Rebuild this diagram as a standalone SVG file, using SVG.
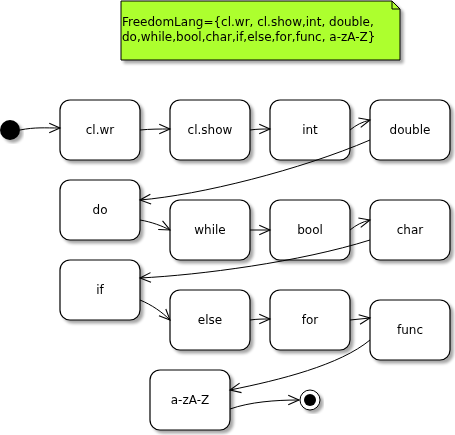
<svg xmlns="http://www.w3.org/2000/svg" width="455" height="435" viewBox="0 0 455 435">
<style>
.box{fill:#fff;stroke:#000;stroke-width:1.2}
.lbl{font-family:"DejaVu Sans",sans-serif;font-size:12px;fill:#000;text-anchor:middle}
.edge{fill:none;stroke:#000;stroke-width:1;marker-end:url(#arr)}
</style>
<defs>
<filter id="sh" x="-20%" y="-20%" width="140%" height="140%">
<feGaussianBlur in="SourceAlpha" stdDeviation="1.5"/>
<feOffset dx="3" dy="3" result="b"/>
<feComponentTransfer><feFuncA type="linear" slope="0.35"/></feComponentTransfer>
<feMerge><feMergeNode/><feMergeNode in="SourceGraphic"/></feMerge>
</filter>
<marker id="arr" markerUnits="userSpaceOnUse" markerWidth="14" markerHeight="14" viewBox="-11 -6 13 12" refX="0" refY="0" orient="auto">
<path d="M-10,-4.5 L0,0 L-10,4.5" fill="none" stroke="#000" stroke-width="1"/>
</marker>
</defs>
<g id="note" filter="url(#sh)">
<path d="M121,1 L392,1 L400,9 L400,60 L121,60 Z" fill="#ADFF2F" stroke="#000" stroke-width="1"/>
<path d="M392,1 L392,9 L400,9" fill="none" stroke="#000" stroke-width="1"/>
<text font-family="DejaVu Sans,sans-serif" font-size="12" x="122" y="26">FreedomLang={cl.wr, cl.show,int, double,</text>
<text font-family="DejaVu Sans,sans-serif" font-size="12" x="122" y="41">do,while,bool,char,if,else,for,func, a-zA-Z}</text>
</g>
<g id="start" filter="url(#sh)"><circle cx="10" cy="130" r="10" fill="#000"/></g>
<g id="n-clwr" filter="url(#sh)"><rect class="box" x="60" y="100" width="80" height="60" rx="10"/><text class="lbl" x="100" y="134">cl.wr</text></g>
<g id="n-clshow" filter="url(#sh)"><rect class="box" x="170" y="100" width="80" height="60" rx="10"/><text class="lbl" x="210" y="134">cl.show</text></g>
<g id="n-int" filter="url(#sh)"><rect class="box" x="270" y="100" width="80" height="60" rx="10"/><text class="lbl" x="310" y="134">int</text></g>
<g id="n-double" filter="url(#sh)"><rect class="box" x="370" y="100" width="80" height="60" rx="10"/><text class="lbl" x="410" y="134">double</text></g>
<g id="n-do" filter="url(#sh)"><rect class="box" x="60" y="180" width="80" height="60" rx="10"/><text class="lbl" x="100" y="214">do</text></g>
<g id="n-while" filter="url(#sh)"><rect class="box" x="170" y="200" width="80" height="60" rx="10"/><text class="lbl" x="210" y="234">while</text></g>
<g id="n-bool" filter="url(#sh)"><rect class="box" x="270" y="200" width="80" height="60" rx="10"/><text class="lbl" x="310" y="234">bool</text></g>
<g id="n-char" filter="url(#sh)"><rect class="box" x="370" y="200" width="80" height="60" rx="10"/><text class="lbl" x="410" y="234">char</text></g>
<g id="n-if" filter="url(#sh)"><rect class="box" x="60" y="260" width="80" height="60" rx="10"/><text class="lbl" x="100" y="294">if</text></g>
<g id="n-else" filter="url(#sh)"><rect class="box" x="170" y="290" width="80" height="60" rx="10"/><text class="lbl" x="210" y="324">else</text></g>
<g id="n-for" filter="url(#sh)"><rect class="box" x="270" y="290" width="80" height="60" rx="10"/><text class="lbl" x="310" y="324">for</text></g>
<g id="n-func" filter="url(#sh)"><rect class="box" x="370" y="300" width="80" height="60" rx="10"/><text class="lbl" x="410" y="334">func</text></g>
<g id="n-az" filter="url(#sh)"><rect class="box" x="150" y="370" width="80" height="60" rx="10"/><text class="lbl" x="190" y="404">a-zA-Z</text></g>
<g id="end" filter="url(#sh)"><circle cx="310" cy="400" r="10" fill="#fff" stroke="#000" stroke-width="1"/><circle cx="310" cy="400" r="6" fill="#000"/></g>
<g id="connectors">
<path class="edge" d="M20,130 C35,127 45,128 60,128"/>
<path class="edge" d="M140,130 C150,129 160,129 170,129"/>
<path class="edge" d="M250,130 C257,129 263,129 270,129"/>
<path class="edge" d="M350,130 C356,125 362,122 370,120"/>
<path class="edge" d="M370,140 C300,170 200,195 140,200"/>
<path class="edge" d="M140,220 C152,222 162,226 170,230"/>
<path class="edge" d="M250,230 C257,230 263,230 270,230"/>
<path class="edge" d="M350,230 C356,225 362,222 370,220"/>
<path class="edge" d="M370,240 C300,262 200,275 140,278"/>
<path class="edge" d="M140,300 C152,305 162,312 170,320"/>
<path class="edge" d="M250,320 C257,319 263,319 270,319"/>
<path class="edge" d="M350,320 C357,319 363,319 370,318"/>
<path class="edge" d="M370,340 C340,365 280,380 230,390"/>
<path class="edge" d="M230,409 C250,402 275,400 299,400"/>
</g>
</svg>
